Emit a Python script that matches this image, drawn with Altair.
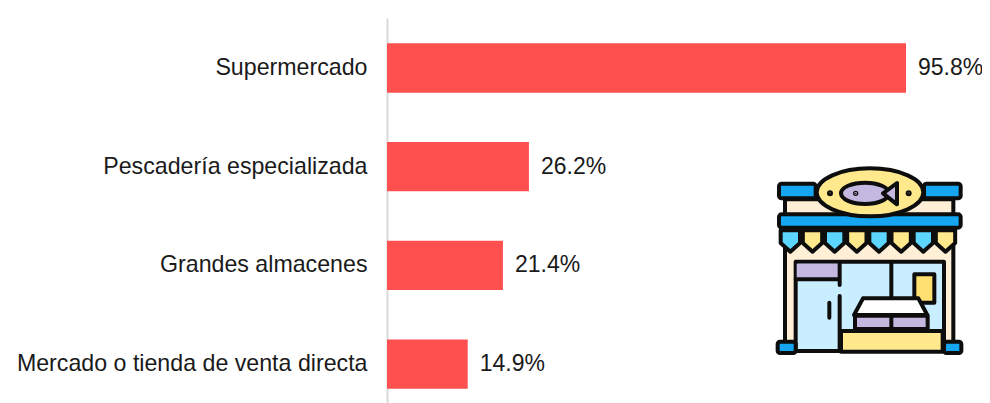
import base64
import altair as alt
import pandas as pd

categories = ["Supermercado", "Pescadería especializada", "Grandes almacenes", "Mercado o tienda de venta directa"]
values = [95.8, 26.2, 21.4, 14.9]
labels = ["95.8%", "26.2%", "21.4%", "14.9%"]

BLUE, SKY, PALE, CREAM, YEL, PURP = "#12A5F0", "#5CD6FF", "#C9EEFF", "#FFEFD6", "#FFE98C", "#C5B8E0"
pennants = "".join(
    f'<path d="M{65+i*66.5} 208h58v38l-29 26l-29-26z" fill="{SKY if i % 2 == 0 else YEL}"/>' for i in range(8)
)
ICON_SVG = f'''<svg xmlns="http://www.w3.org/2000/svg" width="660" height="600" viewBox="0 0 660 600">
<defs><filter id="b"><feGaussianBlur stdDeviation="1.6"/></filter></defs>
<g filter="url(#b)" stroke="#0d0d0d" stroke-width="12" stroke-linejoin="round" stroke-linecap="round">
<rect x="78" y="115" width="505" height="50" fill="{CREAM}"/>
<rect x="78" y="200" width="505" height="370" fill="{CREAM}"/>
<rect x="60" y="68" width="110" height="44" rx="8" fill="{BLUE}"/>
<rect x="495" y="68" width="110" height="44" rx="8" fill="{BLUE}"/>
<rect x="60" y="160" width="545" height="40" rx="8" fill="{BLUE}"/>
{pennants}
<rect x="110" y="302" width="445" height="268" fill="{PALE}"/>
<rect x="113" y="308" width="127" height="44" fill="{PURP}" stroke="none"/>
<path d="M110 355H240M242 305V372M242 405V570M397 305V505M211 425V470" fill="none"/>
<rect x="466" y="340" width="60" height="85" fill="#FFE070"/>
<path d="M285 462L312 412H478L505 462z" fill="#FFFFFF"/>
<rect x="288" y="464" width="218" height="40" fill="{PURP}"/>
<path d="M397 464V504" fill="none"/>
<rect x="246" y="510" width="305" height="62" fill="{YEL}"/>
<rect x="56" y="542" width="54" height="34" rx="7" fill="{BLUE}"/>
<rect x="555" y="542" width="52" height="34" rx="7" fill="{BLUE}"/>
<ellipse cx="333" cy="94" rx="160" ry="72" fill="{YEL}"/>
<ellipse cx="318" cy="97" rx="72" ry="32" fill="{PURP}"/>
<path d="M372 97L414 66V130z" fill="{PURP}"/>
<circle cx="213" cy="97" r="3"/><circle cx="449" cy="97" r="3"/><circle cx="290" cy="97" r="2"/>
</g></svg>'''
ICON_URI = "data:image/svg+xml;base64," + base64.b64encode(ICON_SVG.encode()).decode()

df = pd.DataFrame({"cat": categories, "val": values, "label": labels})
W, H = 595, 385
XMAX = 109.83

y = alt.Y("cat:N", sort=categories, title=None,
          scale=alt.Scale(paddingInner=0.5, paddingOuter=0.2, align=0.64),
          axis=alt.Axis(ticks=False, labelFontSize=23.2, labelColor="#1a1a1a", labelFont="Liberation Sans",
                        labelPadding=20, domainColor="#d9d9d9", domainWidth=2, labelLimit=500))
x = alt.X("val:Q", title=None, axis=None, scale=alt.Scale(domain=[0, XMAX], nice=False))
bars = alt.Chart(df).mark_bar(color="#FF5050").encode(x=x, y=y)
text = alt.Chart(df).mark_text(align="left", dx=12, fontSize=23, font="Liberation Sans", color="#1a1a1a").encode(x=x, y=y, text="label:N")
icon = alt.Chart(df.head(1)).mark_image(url=ICON_URI, width=220, height=200).encode(x=alt.value(482), y=alt.value(243))

chart = alt.layer(bars, text, icon).properties(
    width=W, height=H, background="white",
    padding={"left": 379, "top": 10, "right": 0, "bottom": 0},
    autosize=alt.AutoSizeParams(type="none"),
).configure_view(stroke=None)
chart.save("out.html", embed_options={"renderer": "svg", "actions": False})
